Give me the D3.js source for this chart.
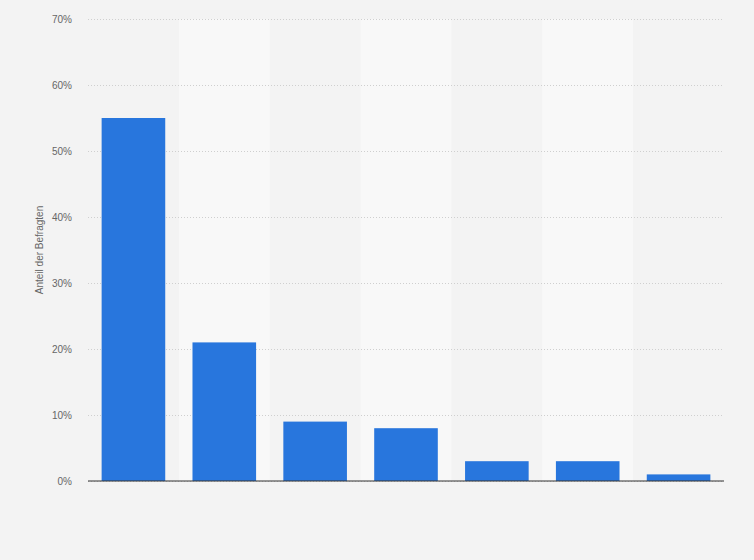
<!DOCTYPE html>
<html>
<head>
<meta charset="utf-8">
<script src="https://cdn.jsdelivr.net/npm/d3@7"></script>
<style>
  body { margin: 0; background: #f3f3f3; }
  text { font-family: "Liberation Sans", Arial, sans-serif; }
</style>
</head>
<body>
<div id="chart"></div>
<script>
const categories = ['A', 'B', 'C', 'D', 'E', 'F', 'G'];
const values = [55, 21, 9, 8, 3, 3, 1];
const yTicks = [0, 10, 20, 30, 40, 50, 60, 70];

const [svgWidth, svgHeight] = [754, 560];
const margin = { left: 88, right: 30, top: 19, bottom: 79 };
const [width, height] = [svgWidth - margin.left - margin.right, svgHeight - margin.top - margin.bottom];

function translate(x, y) {
    return 'translate(' + x + ',' + y + ')';
}

let svg = d3.select('#chart').append('svg')
    .attr('width', svgWidth)
    .attr('height', svgHeight);

svg.append('rect')
    .attr('width', svgWidth)
    .attr('height', svgHeight)
    .attr('fill', '#f3f3f3');

let chart = svg.append('g').attr('transform', translate(margin.left, margin.top));

let xScale = d3.scaleBand().domain(categories).range([0, width]).paddingInner(0.3).paddingOuter(0.15);
let bandScale = d3.scaleBand().domain(categories).range([0, width]);
let yScale = d3.scaleLinear().domain([0, 70]).range([height, 0]);

// alternating column bands
chart.selectAll('rect.band')
    .data(categories.filter((d, i) => i % 2 === 1))
    .enter().append('rect')
    .attr('class', 'band')
    .attr('x', d => bandScale(d))
    .attr('y', 0)
    .attr('width', bandScale.bandwidth())
    .attr('height', height)
    .attr('fill', '#f8f8f8');

// grid + tick labels
let yAxis = chart.append('g')
    .call(d3.axisLeft(yScale).tickValues(yTicks).tickSize(-width).tickFormat(d => d + '%').tickPadding(16));
yAxis.select('.domain').remove();
yAxis.selectAll('.tick line')
    .attr('stroke', '#cfcfcf')
    .attr('stroke-dasharray', '1,2');
yAxis.selectAll('.tick text')
    .attr('fill', '#666')
    .style('font-size', '10px');

chart.selectAll('rect.bar')
    .data(values)
    .enter().append('rect')
    .attr('class', 'bar')
    .attr('x', (d, i) => xScale(categories[i]))
    .attr('y', d => yScale(d))
    .attr('width', xScale.bandwidth())
    .attr('height', d => height - yScale(d))
    .attr('fill', '#2876dd');

chart.append('line')
    .attr('x1', 0).attr('x2', width)
    .attr('y1', yScale(0)).attr('y2', yScale(0))
    .attr('stroke', '#333')
    .attr('stroke-width', 1.2);

svg.append('text')
    .attr('transform', translate(43, margin.top + height / 2) + ' rotate(-90)')
    .attr('text-anchor', 'middle')
    .attr('fill', '#666')
    .style('font-size', '10px')
    .text('Anteil der Befragten');
</script>
</body>
</html>
